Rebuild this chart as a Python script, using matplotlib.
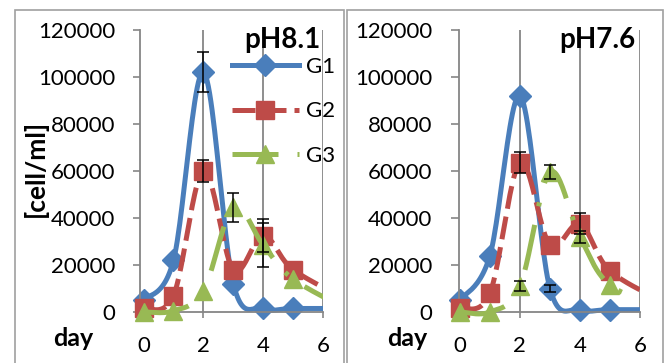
import matplotlib
matplotlib.use('Agg')
import matplotlib.pyplot as plt
import numpy as np
from matplotlib.lines import Line2D
from matplotlib.patches import Rectangle

plt.rcParams['font.family'] = ['Lato', 'DejaVu Sans']

#=======================================================
# data (day 6 has no point: the series jump from day 5 to day 7)
days = [0, 1, 2, 3, 4, 5, 7]
names = ['G1', 'G2', 'G3']
titles = ['pH8.1', 'pH7.6']

ph81_g1 = [5000, 22000, 102000, 12000, 1500, 1500, 1500]
ph81_g2 = [1500, 7000, 60000, 18000, 32500, 18000, 4000]
ph81_g3 = [0, 500, 9000, 44500, 28500, 14000, 0]
ph81_e1 = [0, 0, 8500, 0, 0, 0, 0]
ph81_e2 = [0, 0, 4500, 0, 7000, 0, 0]
ph81_e3 = [0, 0, 0, 6000, 9500, 0, 0]

ph76_g1 = [5000, 24000, 92000, 10000, 1000, 1000, 1000]
ph76_g2 = [1500, 8000, 63500, 28500, 37500, 17500, 3000]
ph76_g3 = [0, 0, 11000, 59500, 32000, 11500, 1000]
ph76_e1 = [0, 0, 0, 1500, 0, 0, 0]
ph76_e2 = [0, 0, 4500, 0, 4500, 0, 0]
ph76_e3 = [0, 0, 2000, 3000, 2500, 0, 0]

yticks = [0, 20000, 40000, 60000, 80000, 100000, 120000]
xticks = [0, 2, 4, 6]

#=======================================================
colors = ['#4a7ebb', '#be4b48', '#98b954']
markers = ['D', 's', '^']
msizes = [11, 13, 13]
dashes = [None, (4.6, 1.6), (9.2, 3.8, 0.8, 4)]
W, H = 669, 363

def smooth(xs, ys, n=25):
    # excel-like smoothed line (bezier through points)
    p = np.column_stack([xs, ys]).astype(float)
    pts = []
    for i in range(len(p) - 1):
        p0 = p[i - 1] if i > 0 else p[i]
        p1, p2 = p[i], p[i + 1]
        p3 = p[i + 2] if i + 2 < len(p) else p[i + 1]
        c1 = p1 + (p2 - p0) / 6.0
        c2 = p2 - (p3 - p1) / 6.0
        t = np.linspace(0, 1, n)[:, None]
        seg = (1-t)**3*p1 + 3*(1-t)**2*t*c1 + 3*(1-t)*t**2*c2 + t**3*p2
        pts.append(seg if i == 0 else seg[1:])
    pts = np.vstack(pts)
    return pts[:, 0], pts[:, 1]

fig = plt.figure(figsize=(W/100, H/100), dpi=100)

# panel frames
for x0, x1 in [(15, 344), (347, 663)]:
    fig.patches.append(Rectangle((x0/W, -0.1), (x1-x0)/W, 1.1 - 10/H, transform=fig.transFigure,
                                 fill=False, ec='#a0a0a0', lw=1.2))

panels = [
    (140, 323, -0.12, [ph81_g1, ph81_g2, ph81_g3], [ph81_e1, ph81_e2, ph81_e3]),
    (459, 640, -0.03, [ph76_g1, ph76_g2, ph76_g3], [ph76_e1, ph76_e2, ph76_e3]),
]

for k, (px0, px1, xmin, series, errs) in enumerate(panels):
    ax = fig.add_axes([px0/W, (H-312)/H, (px1-px0)/W, 282/H])
    ax.set_xlim(xmin, 6)
    ax.set_ylim(0, 120000)
    for s in ['top', 'right']:
        ax.spines[s].set_visible(False)
    for s in ['left', 'bottom']:
        ax.spines[s].set_color('#868686')
        ax.spines[s].set_linewidth(1.3)
    ax.set_xticks(xticks)
    ax.set_yticks(yticks)
    ax.set_yticklabels([str(v) for v in yticks])
    ax.tick_params(axis='y', direction='out', length=5 if k == 0 else 6, width=1.2,
                   color='#868686', pad=13, labelsize=16)
    ax.tick_params(axis='x', direction='out', length=4, width=1.2,
                   color='#868686', pad=13, labelsize=16)
    for g in [2, 4, 6]:
        ax.axvline(g, color='#868686', lw=1.3, zorder=0.5)

    clip = Rectangle((-0.1, -0.2), 1.1, 1.4, transform=ax.transAxes, visible=False)
    ax.add_patch(clip)
    for i, (ys, es) in enumerate(zip(series, errs)):
        sx, sy = smooth(days, ys)
        ln, = ax.plot(sx, sy, color=colors[i], lw=3.6, zorder=2+i)
        if dashes[i]:
            ln.set_dashes(dashes[i])
        ln.set_clip_path(clip)
        mk, = ax.plot(days, ys, ls='none', marker=markers[i], ms=msizes[i],
                      mfc=colors[i], mec=colors[i], zorder=2+i)
        mk.set_clip_path(clip)
        sel = [j for j, e in enumerate(es) if e > 0]
        ax.errorbar([days[j] for j in sel], [ys[j] for j in sel], yerr=[es[j] for j in sel],
                    fmt='none', ecolor='black', elinewidth=1.1, capsize=4, capthick=1.1, zorder=6)

    fig.text((320 if k == 0 else 635)/W, (H-48)/H, titles[k], ha='right', va='baseline',
             fontsize=20, fontweight='bold')
    fig.text((53 if k == 0 else 387)/W, (H-346)/H, 'day', ha='left', va='baseline',
             fontsize=18, fontweight='bold')

    if k == 0:
        handles = []
        for i in range(3):
            h = Line2D([], [], color=colors[i], lw=3.6, marker=markers[i], ms=msizes[i],
                       mfc=colors[i], mec=colors[i])
            if dashes[i]:
                h.set_dashes(dashes[i])
            handles.append(h)
        fig.legend(handles, names, loc='upper left', bbox_to_anchor=(232/W, (H-57)/H),
                   frameon=False, fontsize=16, handlelength=3.0, handletextpad=0.35,
                   labelspacing=1.1, borderpad=0, borderaxespad=0, numpoints=1)

fig.text(35/W, (H-168)/H, '[cell/ml]', rotation=90, ha='center', va='center',
         fontsize=19, fontweight='bold')

fig.savefig('out.png', dpi=100)
